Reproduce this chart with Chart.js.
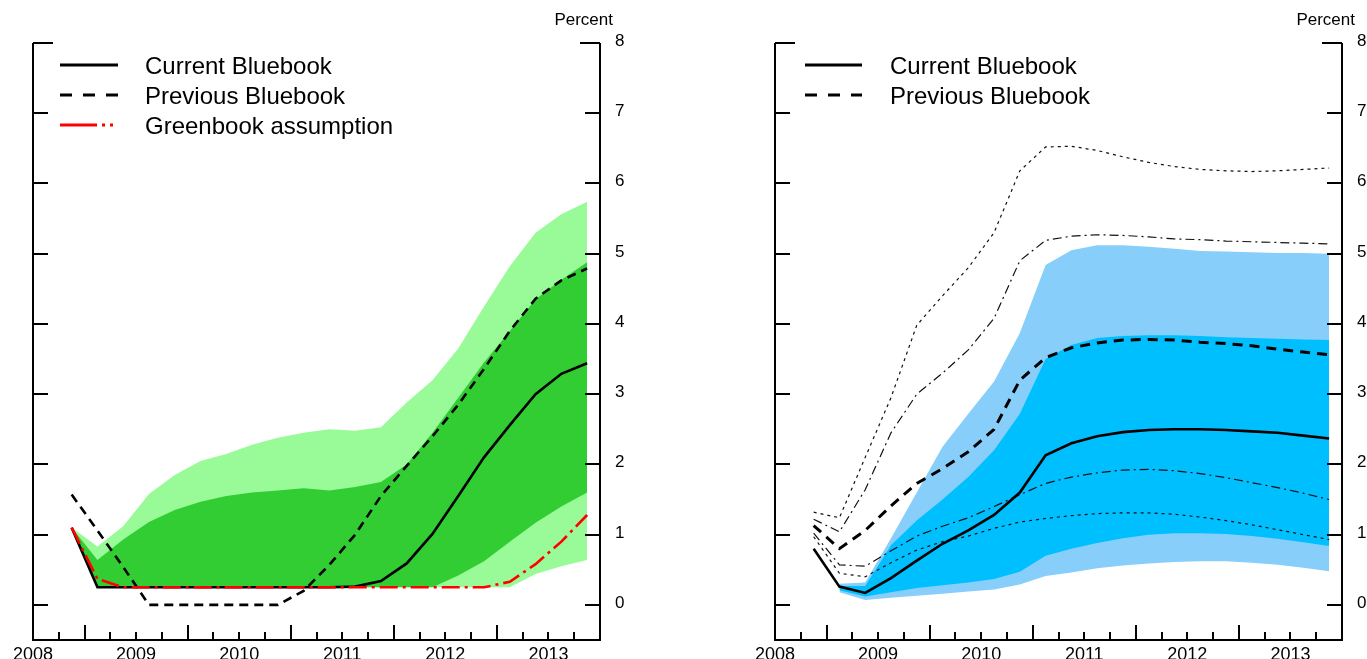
<!DOCTYPE html>
<html>
<head>
<meta charset="utf-8">
<script src="https://cdn.jsdelivr.net/npm/chart.js@4.4.0/dist/chart.umd.min.js"></script>
<style>
  html, body { margin: 0; padding: 0; background: #fff; }
  #wrap { position: relative; width: 1367px; height: 659px; overflow: hidden; }
  .box { position: absolute; top: 0; height: 659px; }
  #b1 { left: 0; width: 683px; }
  #b2 { left: 683px; width: 684px; }
</style>
</head>
<body>
<div id="wrap">
  <div class="box" id="b1"><canvas id="c1"></canvas></div>
  <div class="box" id="b2"><canvas id="c2"></canvas></div>
</div>
<script>
// ---------- DATA ----------
const quarters = ['2008Q2','2008Q3','2008Q4','2009Q1','2009Q2','2009Q3','2009Q4','2010Q1','2010Q2','2010Q3','2010Q4',
                  '2011Q1','2011Q2','2011Q3','2011Q4','2012Q1','2012Q2','2012Q3','2012Q4','2013Q1','2013Q2'];
const yearLabels = [2008, 2009, 2010, 2011, 2012, 2013];
const yTickValues = [0, 1, 2, 3, 4, 5, 6, 7, 8];

// Left panel (green)
const leftCurrent   = [1.1, 0.25, 0.25, 0.25, 0.25, 0.25, 0.25, 0.25, 0.25, 0.25, 0.25, 0.26, 0.34, 0.59, 1.01, 1.55, 2.1, 2.56, 3.0, 3.29, 3.44];
const leftPrevious  = [1.57, 1.06, 0.54, 0, 0, 0, 0, 0, 0, 0.2, 0.57, 1.0, 1.55, 1.98, 2.4, 2.85, 3.36, 3.9, 4.36, 4.62, 4.79];
const leftGreenbook = [1.1, 0.37, 0.25, 0.25, 0.25, 0.25, 0.25, 0.25, 0.25, 0.25, 0.25, 0.25, 0.25, 0.25, 0.25, 0.25, 0.25, 0.33, 0.58, 0.9, 1.28];
const leftOuterUp   = [1.1, 0.83, 1.12, 1.58, 1.85, 2.05, 2.15, 2.28, 2.38, 2.45, 2.5, 2.48, 2.53, 2.88, 3.2, 3.65, 4.25, 4.82, 5.3, 5.56, 5.74];
const leftOuterLow  = [1.1, 0.25, 0.25, 0.25, 0.25, 0.25, 0.25, 0.25, 0.25, 0.25, 0.25, 0.25, 0.25, 0.25, 0.25, 0.25, 0.25, 0.25, 0.44, 0.55, 0.64];
const leftInnerUp   = [1.1, 0.64, 0.93, 1.18, 1.35, 1.47, 1.55, 1.6, 1.63, 1.66, 1.63, 1.68, 1.75, 2.0, 2.45, 2.95, 3.45, 3.9, 4.35, 4.63, 4.88];
const leftInnerLow  = [1.1, 0.25, 0.25, 0.25, 0.25, 0.25, 0.25, 0.25, 0.25, 0.25, 0.25, 0.25, 0.25, 0.25, 0.25, 0.42, 0.62, 0.9, 1.17, 1.4, 1.6];

// Right panel (blue)
const rightCurrent  = [0.8, 0.26, 0.17, 0.38, 0.63, 0.87, 1.06, 1.28, 1.6, 2.13, 2.3, 2.4, 2.46, 2.49, 2.5, 2.5, 2.49, 2.47, 2.45, 2.41, 2.37];
const rightPrevious = [1.13, 0.8, 1.06, 1.41, 1.73, 1.94, 2.18, 2.5, 3.2, 3.52, 3.66, 3.73, 3.77, 3.78, 3.77, 3.74, 3.72, 3.69, 3.64, 3.6, 3.56];
const rightOuterUp  = [null, 0.3, 0.32, 0.95, 1.6, 2.25, 2.72, 3.18, 3.87, 4.84, 5.05, 5.12, 5.12, 5.1, 5.07, 5.04, 5.03, 5.02, 5.01, 5.01, 5.0];
const rightOuterLow = [null, 0.18, 0.07, 0.1, 0.13, 0.16, 0.19, 0.22, 0.29, 0.41, 0.46, 0.52, 0.56, 0.59, 0.61, 0.62, 0.62, 0.6, 0.57, 0.53, 0.48];
const rightInnerUp  = [null, 0.27, 0.27, 0.85, 1.2, 1.5, 1.82, 2.2, 2.72, 3.5, 3.7, 3.8, 3.83, 3.84, 3.84, 3.83, 3.81, 3.8, 3.79, 3.78, 3.77];
const rightInnerLow = [null, 0.21, 0.12, 0.18, 0.24, 0.28, 0.32, 0.37, 0.47, 0.7, 0.8, 0.88, 0.95, 1.0, 1.02, 1.02, 1.01, 0.98, 0.94, 0.89, 0.84];
const prevOuterUp   = [1.32, 1.24, 2.1, 2.95, 3.98, 4.4, 4.8, 5.3, 6.18, 6.52, 6.53, 6.47, 6.38, 6.3, 6.24, 6.2, 6.18, 6.17, 6.18, 6.2, 6.22];
const prevInnerUp   = [1.22, 1.04, 1.64, 2.45, 3.0, 3.3, 3.63, 4.08, 4.9, 5.19, 5.25, 5.27, 5.26, 5.24, 5.21, 5.2, 5.18, 5.17, 5.16, 5.15, 5.14];
const prevInnerLow  = [1.02, 0.57, 0.55, 0.77, 0.98, 1.12, 1.24, 1.4, 1.57, 1.73, 1.82, 1.88, 1.92, 1.93, 1.91, 1.87, 1.81, 1.74, 1.67, 1.59, 1.5];
const prevOuterLow  = [0.97, 0.45, 0.4, 0.6, 0.78, 0.9, 0.98, 1.09, 1.18, 1.23, 1.27, 1.3, 1.31, 1.31, 1.29, 1.25, 1.2, 1.14, 1.07, 1.0, 0.93];

const legendLeft  = ['Current Bluebook', 'Previous Bluebook', 'Greenbook assumption'];
const legendRight = ['Current Bluebook', 'Previous Bluebook'];

// ---------- HELPERS ----------
const FONT = '"Liberation Sans", Arial, Helvetica, sans-serif';
function qx(q) { const yr = parseInt(q.slice(0, 4)); const n = parseInt(q.slice(5)); return yr + (n - 1) * 0.25 + 0.125; }
function pts(arr) { return quarters.map((q, i) => ({ x: qx(q), y: arr[i] })); }
function line(label, arr, color, width, dash, order) {
  return { label, data: pts(arr), borderColor: color, borderWidth: width, borderDash: dash || [],
           pointRadius: 0, fill: false, tension: 0, order, borderCapStyle: 'butt', borderJoinStyle: 'miter' };
}
function band(arr, color, target, order) {
  return { label: '_band', data: pts(arr), borderWidth: 0, borderColor: 'rgba(0,0,0,0)', pointRadius: 0,
           backgroundColor: color, fill: target === null ? false : { target }, tension: 0, order };
}

const framePlugin = {
  id: 'frame',
  afterDraw(chart, args, opts) {
    const { ctx, chartArea: { left, right, bottom }, scales: { x, y } } = chart;
    ctx.save();
    ctx.strokeStyle = '#000';
    ctx.fillStyle = '#000';
    ctx.lineWidth = 2;
    const yTop = y.getPixelForValue(8);
    ctx.beginPath();
    ctx.moveTo(left, yTop); ctx.lineTo(left, bottom); ctx.lineTo(right, bottom); ctx.lineTo(right, yTop);
    ctx.stroke();
    // y ticks (inward, both sides)
    ctx.font = '17px ' + FONT;
    ctx.textAlign = 'left'; ctx.textBaseline = 'middle';
    yTickValues.forEach(v => {
      const py = Math.round(y.getPixelForValue(v));
      const len = v === 8 ? 20 : 15;
      ctx.beginPath();
      ctx.moveTo(left, py); ctx.lineTo(left + len, py);
      ctx.moveTo(right - len, py); ctx.lineTo(right, py);
      ctx.stroke();
      ctx.fillText(String(v), right + 15, py - 2);
    });
    // "Percent"
    ctx.textAlign = 'right'; ctx.textBaseline = 'middle';
    ctx.fillText('Percent', right + 13, 20);
    // x ticks (inward): quarters; tall at mid-year
    for (let yr = yearLabels[0]; yr <= yearLabels[yearLabels.length - 1]; yr++) {
      [0.25, 0.5, 0.75, 1.0].forEach(f => {
        const v = yr + f;
        if (v >= x.max) return;
        const px = Math.round(x.getPixelForValue(v));
        const len = f === 0.5 ? 15 : 8;
        ctx.beginPath(); ctx.moveTo(px, bottom); ctx.lineTo(px, bottom - len); ctx.stroke();
      });
    }
    ctx.font = '18px ' + FONT;
    ctx.textAlign = 'center'; ctx.textBaseline = 'top';
    yearLabels.forEach(yr => {
      ctx.fillText(String(yr), x.getPixelForValue(yr), bottom + 6);
    });
    // legend
    const lg = opts.legend;
    ctx.font = '24px ' + FONT;
    ctx.textAlign = 'left'; ctx.textBaseline = 'middle';
    lg.items.forEach((it, i) => {
      const ly = lg.y + i * 30;
      ctx.save();
      ctx.strokeStyle = it.color; ctx.lineWidth = 3; ctx.setLineDash(it.dash || []);
      ctx.beginPath(); ctx.moveTo(lg.x, ly); ctx.lineTo(lg.x + lg.w, ly); ctx.stroke();
      ctx.restore();
      ctx.fillStyle = '#000';
      ctx.fillText(it.text, lg.tx, ly + 2);
    });
    ctx.restore();
  }
};

function makeChart(id, datasets, padding, legend) {
  return new Chart(document.getElementById(id), {
    type: 'line',
    data: { datasets },
    plugins: [framePlugin],
    options: {
      responsive: true, maintainAspectRatio: false, animation: false,
      layout: { padding },
      scales: {
        x: { type: 'linear', min: 2008, max: 2013.5, display: false },
        y: { type: 'linear', min: -0.5, max: 8, display: false }
      },
      plugins: { legend: { display: false }, tooltip: { enabled: false }, frame: { legend } }
    }
  });
}

// ---------- LEFT ----------
const LG = '#98FB98', DG = '#32CD32';
makeChart('c1', [
  band(leftOuterUp, LG, 1, 10),
  band(leftOuterLow, LG, null, 10),
  band(leftInnerUp, DG, 3, 9),
  band(leftInnerLow, DG, null, 9),
  line(legendLeft[1], leftPrevious, '#000', 2.6, [9, 6], 3),
  line(legendLeft[0], leftCurrent, '#000', 2.6, [], 2),
  line(legendLeft[2], leftGreenbook, '#FF0000', 2.6, [18, 5, 3, 5], 1)
], { left: 33, right: 83, top: 43, bottom: 19 }, {
  x: 60, w: 58, tx: 145, y: 65,
  items: [
    { text: legendLeft[0], color: '#000', dash: [] },
    { text: legendLeft[1], color: '#000', dash: [12, 11] },
    { text: legendLeft[2], color: '#FF0000', dash: [37, 5, 3, 5, 3, 60] }
  ]
});

// ---------- RIGHT ----------
const LB = '#87CEFA', DB = '#00BFFF';
makeChart('c2', [
  band(rightOuterUp, LB, 1, 10),
  band(rightOuterLow, LB, null, 10),
  band(rightInnerUp, DB, 3, 9),
  band(rightInnerLow, DB, null, 9),
  line('_po', prevOuterUp, '#111', 1.2, [3, 4], 5),
  line('_pi', prevInnerUp, '#111', 1.2, [9, 4, 2, 4], 5),
  line('_pil', prevInnerLow, '#111', 1.2, [9, 4, 2, 4], 5),
  line('_pol', prevOuterLow, '#111', 1.2, [3, 4], 5),
  line(legendRight[1], rightPrevious, '#000', 3, [10, 7], 3),
  line(legendRight[0], rightCurrent, '#000', 2.6, [], 2)
], { left: 92, right: 25, top: 43, bottom: 19 }, {
  x: 805 - 683, w: 57, tx: 890 - 683, y: 65,
  items: [
    { text: legendRight[0], color: '#000', dash: [] },
    { text: legendRight[1], color: '#000', dash: [12, 11] }
  ]
});
</script>
</body>
</html>
